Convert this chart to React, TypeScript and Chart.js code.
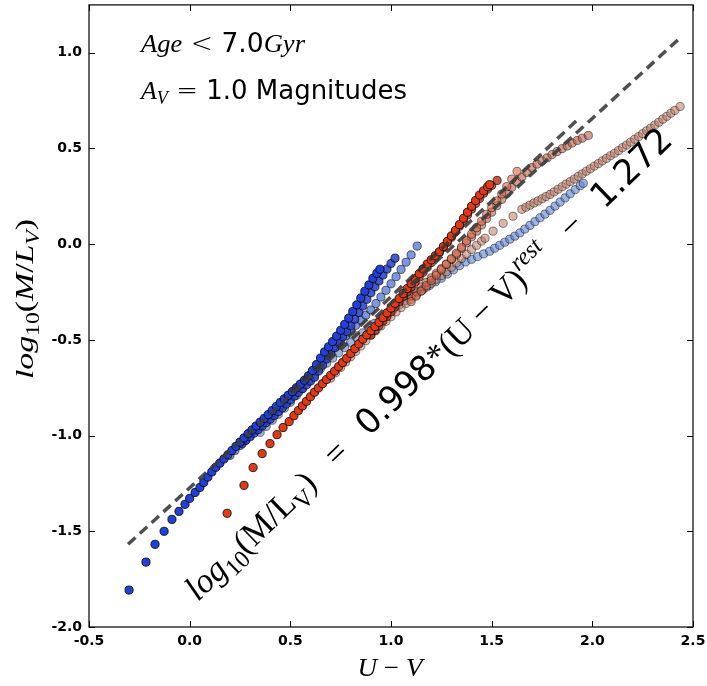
import React, { useEffect, useRef } from "react";
import { Chart, registerables } from "chart.js";
Chart.register(...registerables);

// ---------- axes ----------
const xTickValues = [-0.5, 0.0, 0.5, 1.0, 1.5, 2.0, 2.5];
const yTickValues = [-2.0, -1.5, -1.0, -0.5, 0.0, 0.5, 1.0];

// ---------- dashed reference lines ----------
const mainLineX = [-0.306, 2.431];
const mainLineY = [-1.568, 1.073];
const fitLineX = [0.5, 1.94];
const fitLineY = [-0.773, 0.664];

// ---------- model tracks [U-V, log10(M/Lv)] ----------
const darkBlueA = [[-0.301,-1.807],[-0.217,-1.661],[-0.172,-1.568],[-0.127,-1.500],[-0.088,-1.438],[-0.053,-1.396],[-0.023,-1.359],[0.0,-1.328],[0.027,-1.297],[0.051,-1.271],[0.07,-1.245],[0.09,-1.217],[0.11,-1.190],[0.13,-1.166],[0.15,-1.144],[0.17,-1.122],[0.19,-1.100],[0.21,-1.078],[0.23,-1.056],[0.25,-1.034],[0.27,-1.012],[0.29,-0.990],[0.31,-0.970],[0.33,-0.950],[0.35,-0.930],[0.37,-0.910],[0.39,-0.890],[0.41,-0.869],[0.43,-0.848],[0.45,-0.827],[0.47,-0.808],[0.49,-0.789],[0.51,-0.770],[0.53,-0.750],[0.55,-0.731],[0.57,-0.711],[0.59,-0.688],[0.61,-0.660],[0.63,-0.629],[0.65,-0.595],[0.67,-0.563],[0.69,-0.536],[0.71,-0.509],[0.73,-0.480],[0.75,-0.450],[0.77,-0.419],[0.79,-0.386],[0.81,-0.352],[0.83,-0.317],[0.85,-0.281],[0.87,-0.246],[0.89,-0.213],[0.91,-0.179],[0.93,-0.152],[0.945,-0.131]];
const darkBlueB = [[0.26,-1.043],[0.28,-1.024],[0.30,-1.006],[0.32,-0.987],[0.34,-0.969],[0.36,-0.950],[0.38,-0.932],[0.40,-0.914],[0.42,-0.895],[0.44,-0.875],[0.46,-0.855],[0.48,-0.835],[0.50,-0.814],[0.52,-0.794],[0.54,-0.774],[0.56,-0.754],[0.58,-0.735],[0.60,-0.715],[0.62,-0.695],[0.64,-0.663],[0.66,-0.632],[0.68,-0.600],[0.70,-0.569],[0.72,-0.541],[0.74,-0.512],[0.76,-0.484],[0.78,-0.456],[0.80,-0.427],[0.82,-0.392],[0.84,-0.357],[0.86,-0.323],[0.88,-0.288],[0.90,-0.254],[0.92,-0.223],[0.94,-0.192],[0.96,-0.161],[0.98,-0.130],[1.00,-0.101],[1.02,-0.073]];
const midBlue = [[0.200,-1.104],[0.225,-1.078],[0.250,-1.052],[0.275,-1.026],[0.300,-1.000],[0.325,-0.974],[0.350,-0.948],[0.375,-0.922],[0.400,-0.896],[0.425,-0.870],[0.450,-0.844],[0.475,-0.817],[0.500,-0.791],[0.525,-0.765],[0.550,-0.739],[0.575,-0.710],[0.600,-0.681],[0.625,-0.652],[0.650,-0.623],[0.675,-0.595],[0.700,-0.566],[0.725,-0.537],[0.750,-0.508],[0.775,-0.479],[0.800,-0.450],[0.825,-0.424],[0.850,-0.397],[0.875,-0.371],[0.900,-0.344],[0.925,-0.310],[0.950,-0.276],[0.975,-0.241],[1.000,-0.207],[1.025,-0.170],[1.050,-0.132],[1.075,-0.094],[1.100,-0.056],[1.130,-0.010]];
const paleBlue = [[0.35,-0.983],[0.38,-0.952],[0.41,-0.920],[0.44,-0.889],[0.47,-0.857],[0.50,-0.826],[0.53,-0.790],[0.56,-0.755],[0.59,-0.719],[0.62,-0.684],[0.65,-0.649],[0.68,-0.622],[0.71,-0.595],[0.74,-0.568],[0.77,-0.540],[0.80,-0.513],[0.83,-0.488],[0.86,-0.463],[0.89,-0.438],[0.92,-0.413],[0.95,-0.388],[0.98,-0.365],[1.01,-0.342],[1.04,-0.318],[1.07,-0.295],[1.10,-0.272],[1.13,-0.254],[1.16,-0.235],[1.19,-0.216],[1.22,-0.197],[1.25,-0.178],[1.28,-0.156],[1.31,-0.134],[1.34,-0.112],[1.37,-0.093],[1.40,-0.079],[1.43,-0.065],[1.46,-0.051],[1.49,-0.037],[1.515,-0.021],[1.54,-0.006],[1.565,0.010],[1.59,0.026],[1.615,0.042],[1.64,0.059],[1.665,0.079],[1.69,0.098],[1.715,0.118],[1.74,0.138],[1.765,0.157],[1.79,0.177],[1.815,0.199],[1.84,0.220],[1.865,0.242],[1.89,0.263],[1.915,0.285],[1.94,0.306],[1.955,0.318]];
const redA = [[0.186,-1.406],[0.270,-1.260],[0.315,-1.167],[0.360,-1.094],[0.399,-1.042],[0.434,-0.995],[0.464,-0.958],[0.494,-0.927],[0.518,-0.896],[0.54,-0.869],[0.56,-0.845],[0.58,-0.821],[0.60,-0.797],[0.62,-0.773],[0.64,-0.751],[0.66,-0.729],[0.68,-0.707],[0.70,-0.685],[0.72,-0.663],[0.74,-0.640],[0.76,-0.618],[0.78,-0.596],[0.80,-0.571],[0.82,-0.546],[0.84,-0.521],[0.86,-0.496],[0.88,-0.474],[0.90,-0.452],[0.92,-0.430],[0.94,-0.408],[0.96,-0.384],[0.98,-0.359],[1.00,-0.334],[1.02,-0.309],[1.04,-0.284],[1.06,-0.258],[1.08,-0.232],[1.10,-0.206],[1.12,-0.180],[1.14,-0.155],[1.16,-0.129],[1.18,-0.104],[1.20,-0.082],[1.22,-0.061],[1.24,-0.040],[1.26,-0.013],[1.28,0.015],[1.30,0.043],[1.32,0.072],[1.34,0.102],[1.36,0.135],[1.38,0.167],[1.40,0.198],[1.42,0.228],[1.44,0.257],[1.46,0.279],[1.48,0.300],[1.49,0.311]];
const redB = [[0.90,-0.474],[0.92,-0.450],[0.94,-0.426],[0.96,-0.401],[0.98,-0.377],[1.00,-0.353],[1.02,-0.327],[1.04,-0.301],[1.06,-0.275],[1.08,-0.249],[1.10,-0.223],[1.12,-0.198],[1.14,-0.172],[1.16,-0.147],[1.18,-0.121],[1.20,-0.096],[1.22,-0.070],[1.24,-0.044],[1.26,-0.017],[1.28,0.009],[1.30,0.036],[1.32,0.065],[1.34,0.094],[1.36,0.123],[1.38,0.153],[1.40,0.183],[1.42,0.212],[1.44,0.239],[1.46,0.266],[1.48,0.288],[1.50,0.307],[1.527,0.333]];
const brown = [[1.100,-0.270],[1.125,-0.247],[1.150,-0.223],[1.175,-0.200],[1.200,-0.176],[1.225,-0.152],[1.250,-0.128],[1.275,-0.104],[1.300,-0.080],[1.325,-0.054],[1.350,-0.023],[1.375,0.007],[1.400,0.038],[1.425,0.068],[1.450,0.100],[1.475,0.134],[1.500,0.167],[1.525,0.201],[1.550,0.234],[1.575,0.265],[1.600,0.297],[1.625,0.326],[1.650,0.351],[1.675,0.375],[1.700,0.400],[1.725,0.418],[1.750,0.435],[1.775,0.451],[1.800,0.468],[1.825,0.484],[1.850,0.499],[1.875,0.513],[1.900,0.528],[1.925,0.542],[1.950,0.554],[1.980,0.568]];
const pink = [[0.700,-0.700],[0.725,-0.672],[0.750,-0.644],[0.775,-0.616],[0.800,-0.588],[0.825,-0.560],[0.850,-0.532],[0.875,-0.504],[0.900,-0.476],[0.925,-0.452],[0.950,-0.427],[0.975,-0.403],[1.000,-0.379],[1.025,-0.354],[1.050,-0.331],[1.075,-0.309],[1.100,-0.288],[1.125,-0.266],[1.150,-0.245],[1.175,-0.225],[1.200,-0.205],[1.225,-0.184],[1.250,-0.164],[1.275,-0.144],[1.300,-0.121],[1.325,-0.098],[1.350,-0.075],[1.375,-0.052],[1.400,-0.028],[1.425,-0.006],[1.450,0.016],[1.467,0.031],[1.507,0.068],[1.557,0.109],[1.606,0.146],[1.65,0.182],[1.67,0.193],[1.69,0.204],[1.71,0.215],[1.73,0.226],[1.75,0.237],[1.77,0.249],[1.79,0.260],[1.81,0.273],[1.83,0.287],[1.85,0.300],[1.87,0.314],[1.89,0.327],[1.91,0.340],[1.93,0.354],[1.95,0.367],[1.97,0.381],[1.99,0.394],[2.01,0.408],[2.03,0.421],[2.05,0.435],[2.07,0.448],[2.09,0.462],[2.11,0.475],[2.13,0.489],[2.15,0.504],[2.17,0.518],[2.19,0.533],[2.21,0.548],[2.23,0.562],[2.25,0.577],[2.27,0.592],[2.29,0.606],[2.31,0.622],[2.33,0.637],[2.35,0.653],[2.37,0.668],[2.39,0.684],[2.41,0.699],[2.436,0.719]];
const salmon = [[1.100,-0.300],[1.125,-0.272],[1.150,-0.245],[1.175,-0.217],[1.200,-0.190],[1.225,-0.162],[1.250,-0.134],[1.275,-0.105],[1.300,-0.076],[1.325,-0.047],[1.350,-0.016],[1.375,0.018],[1.400,0.052],[1.425,0.086],[1.450,0.120],[1.475,0.156],[1.500,0.191],[1.525,0.226],[1.550,0.262],[1.575,0.301],[1.600,0.340],[1.626,0.380]];

const SANS = '"DejaVu Sans"';
const SERIF = '"Liberation Serif"';

type Seg = { t: string; f: string; dy?: number };
const it = (s: number) => `italic ${s}px ${SERIF}`;
const rm = (s: number) => `${s}px ${SERIF}`;
const sn = (s: number) => `${s}px ${SANS}`;

function drawRich(ctx: CanvasRenderingContext2D, segs: Seg[], x: number, y: number, angle: number, center: boolean, target: number) {
  let total = 0;
  const ws = segs.map((s) => { ctx.font = s.f; const w = ctx.measureText(s.t).width; total += w; return w; });
  let sx = target / total;
  sx = Math.max(0.8, Math.min(1.3, sx));
  ctx.save();
  ctx.translate(x, y);
  ctx.rotate(angle);
  ctx.scale(sx, 1);
  ctx.fillStyle = "#000";
  ctx.textAlign = "left";
  ctx.textBaseline = "alphabetic";
  let cx = center ? -total / 2 : 0;
  segs.forEach((s, i) => { ctx.font = s.f; ctx.fillText(s.t, cx, s.dy || 0); cx += ws[i]; });
  ctx.restore();
}

const overlay = {
  id: "overlay",
  afterDraw(chart: any) {
    const { ctx, chartArea: a, scales } = chart;
    ctx.save();
    ctx.strokeStyle = "#000";
    ctx.lineWidth = 1.2;
    ctx.strokeRect(a.left, a.top, a.right - a.left, a.bottom - a.top);
    ctx.lineWidth = 1;
    ctx.beginPath();
    xTickValues.forEach((v) => {
      const p = Math.round(scales.x.getPixelForValue(v)) + 0.5;
      ctx.moveTo(p, a.bottom); ctx.lineTo(p, a.bottom - 6);
      ctx.moveTo(p, a.top); ctx.lineTo(p, a.top + 6);
    });
    yTickValues.forEach((v) => {
      const p = Math.round(scales.y.getPixelForValue(v)) + 0.5;
      ctx.moveTo(a.left, p); ctx.lineTo(a.left + 6, p);
      ctx.moveTo(a.right, p); ctx.lineTo(a.right - 6, p);
    });
    ctx.stroke();

    const F = 26;
    drawRich(ctx, [{ t: "Age", f: it(F) }, { t: " < ", f: `200 ${F}px ${SANS}` }, { t: "7.0", f: sn(F) }, { t: "Gyr", f: it(F) }], 141, 52, 0, false, 164);
    drawRich(ctx, [{ t: "A", f: it(F) }, { t: "V", f: it(F * 0.7), dy: 5 }, { t: " = ", f: `200 ${F}px ${SANS}` }, { t: "1.0 Magnitudes", f: sn(F) }], 141, 99, 0, false, 266);

    const E = 35;
    drawRich(ctx, [
      { t: "log", f: it(E) }, { t: "10", f: rm(E * 0.7), dy: E * 0.22 },
      { t: "(M/L", f: rm(E) }, { t: "V", f: rm(E * 0.7), dy: E * 0.22 }, { t: ")", f: rm(E) },
      { t: "   =   ", f: rm(E) }, { t: "0.998", f: sn(E) }, { t: "*", f: rm(E) },
      { t: "(U \u2212 V)", f: rm(E) }, { t: "rest", f: it(E * 0.7), dy: -E * 0.42 },
      { t: "   \u2212   ", f: rm(E) }, { t: "1.272", f: sn(E) },
    ], 198, 602, (-44 * Math.PI) / 180, false, 662);

    const L = 26;
    drawRich(ctx, [{ t: "U", f: it(L) }, { t: " \u2212 ", f: rm(L) }, { t: "V", f: it(L) }], 390, 676, 0, true, 65);
    drawRich(ctx, [
      { t: "log", f: it(L) }, { t: "10", f: rm(L * 0.7), dy: L * 0.22 }, { t: "(", f: rm(L) },
      { t: "M", f: it(L) }, { t: "/", f: rm(L) }, { t: "L", f: it(L) }, { t: "V", f: it(L * 0.7), dy: L * 0.22 }, { t: ")", f: rm(L) },
    ], 33, 299, -Math.PI / 2, true, 172);
    ctx.restore();
  },
};

const toPts = (arr: number[][]) => arr.map(([x, y]) => ({ x, y }));
const track = (arr: number[][], fill: string, edge: string, order: number) => ({
  type: "scatter" as const,
  data: toPts(arr),
  backgroundColor: fill,
  borderColor: edge,
  borderWidth: 0.8,
  pointRadius: 4.1,
  pointHoverRadius: 4.1,
  order,
});

export default function App() {
  const ref = useRef<HTMLCanvasElement>(null);
  useEffect(() => {
    document.body.style.margin = "0";
    if (!ref.current) return;
    const chart = new Chart(ref.current, {
      type: "scatter",
      data: {
        datasets: [
          { type: "line", data: mainLineX.map((x, i) => ({ x, y: mainLineY[i] })), borderColor: "rgba(60,60,60,0.9)", borderWidth: 3.5, borderDash: [10, 6], pointRadius: 0, fill: false, order: 0 } as any,
          { type: "line", data: fitLineX.map((x, i) => ({ x, y: fitLineY[i] })), borderColor: "rgba(50,50,50,0.85)", borderWidth: 3.5, borderDash: [10, 6], pointRadius: 0, fill: false, order: 0 } as any,
          track(redA, "#e03a14", "#000", 1),
          track(darkBlueA, "#2040d8", "#000", 2),
          track(redB, "rgba(185,45,18,0.8)", "rgba(0,0,0,0.8)", 3),
          track(darkBlueB, "rgba(35,62,200,0.85)", "rgba(0,0,0,0.85)", 4),
          track(salmon, "rgba(215,100,70,0.6)", "rgba(0,0,0,0.6)", 5),
          track(brown, "rgba(180,95,70,0.6)", "rgba(0,0,0,0.6)", 6),
          track(midBlue, "rgba(70,105,210,0.7)", "rgba(0,0,0,0.7)", 7),
          track(pink, "rgba(185,120,100,0.55)", "rgba(0,0,0,0.55)", 8),
          track(paleBlue, "rgba(95,130,205,0.6)", "rgba(0,0,0,0.6)", 9),
        ],
      },
      options: {
        responsive: false,
        animation: false,
        events: [],
        layout: { padding: { left: 0, top: 3, right: 14, bottom: 0 } },
        plugins: { legend: { display: false }, tooltip: { enabled: false } },
        scales: {
          x: {
            type: "linear", min: -0.5, max: 2.5,
            afterBuildTicks: (s: any) => { s.ticks = xTickValues.map((v) => ({ value: v })); },
            afterFit: (s: any) => { s.height = 59; s.paddingLeft = 0; s.paddingRight = 0; },
            grid: { display: false, drawTicks: false },
            border: { display: false },
            ticks: { padding: 6, color: "#000", font: { family: "DejaVu Sans", size: 14, weight: "bold" }, maxRotation: 0, autoSkip: false, callback: (v: any) => Number(v).toFixed(1) },
          },
          y: {
            type: "linear", min: -2.0, max: 1.25,
            afterBuildTicks: (s: any) => { s.ticks = yTickValues.map((v) => ({ value: v })); },
            afterFit: (s: any) => { s.width = 89; s.paddingTop = 0; s.paddingBottom = 0; },
            grid: { display: false, drawTicks: false },
            border: { display: false },
            ticks: { padding: 7, color: "#000", font: { family: "DejaVu Sans", size: 14, weight: "bold" }, autoSkip: false, callback: (v: any) => Number(v).toFixed(1) },
          },
        },
      },
      plugins: [overlay],
    });
    return () => chart.destroy();
  }, []);
  return (
    <div style={{ width: 707, height: 686, background: "#fff" }}>
      <canvas ref={ref} width={707} height={686} />
    </div>
  );
}
